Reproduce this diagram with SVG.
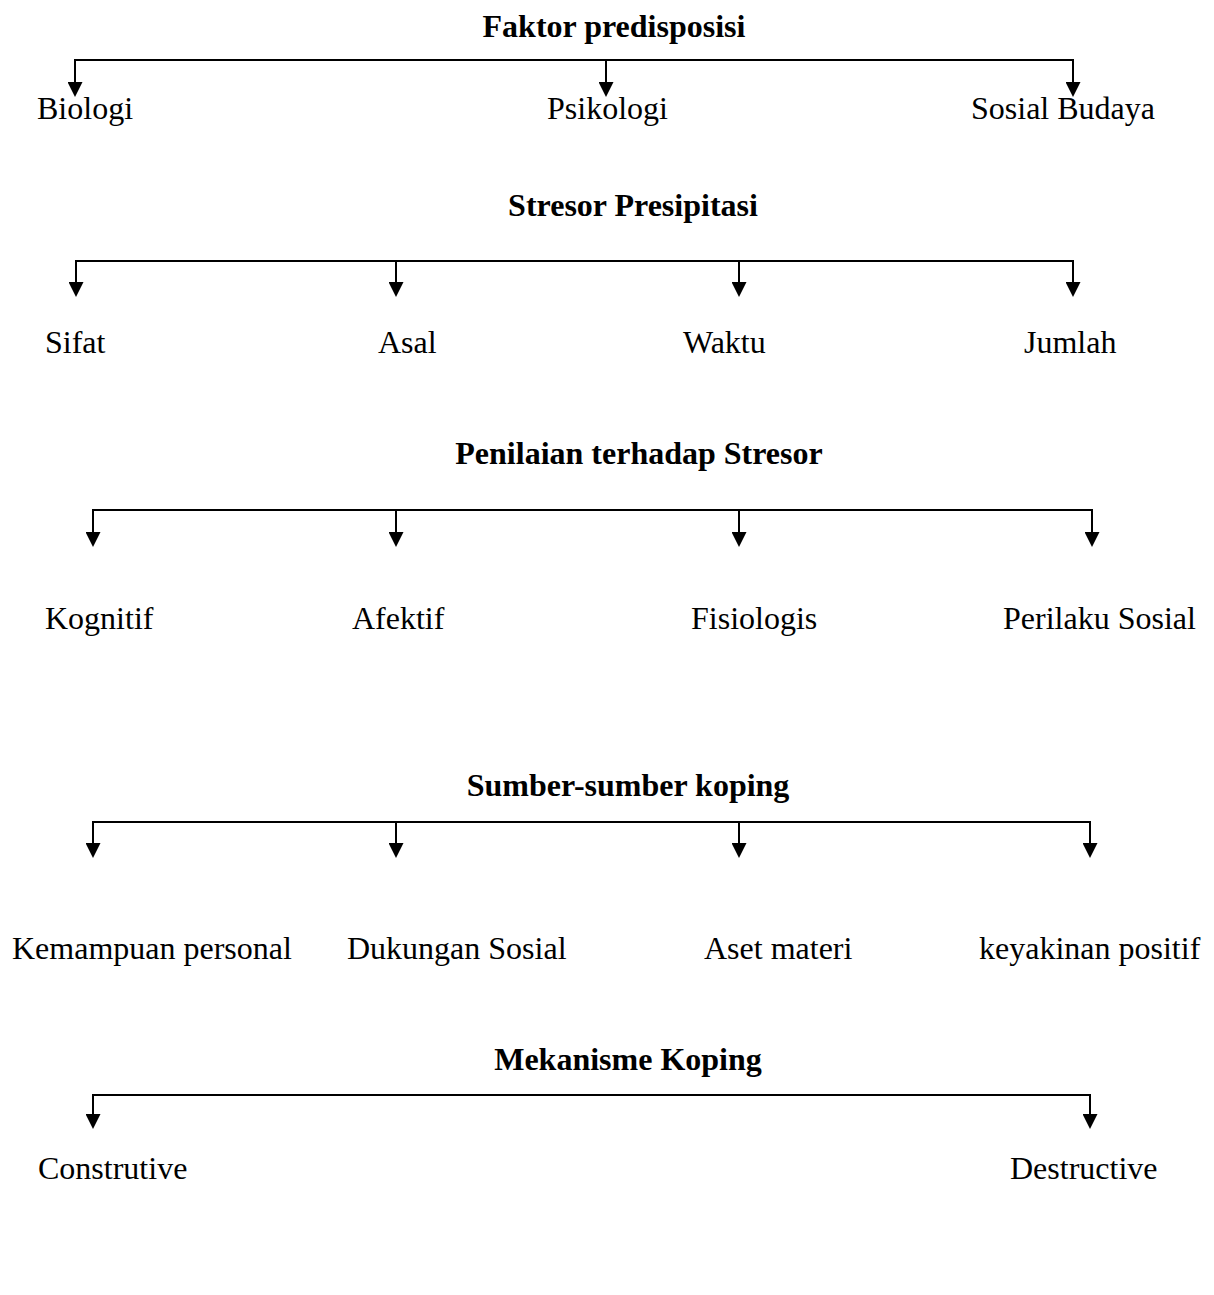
<svg xmlns="http://www.w3.org/2000/svg" width="1214" height="1295" viewBox="0 0 1214 1295">
<style>
text { font-family: "Liberation Serif", "Times New Roman", serif; font-size: 32px; fill: #000; }
.title { font-weight: bold; text-anchor: middle; }
.conn { fill: none; stroke: #000; stroke-width: 2; }
</style>
<defs>
<marker id="ah" viewBox="0 0 10 10" refX="0" refY="5" markerWidth="15" markerHeight="15" markerUnits="userSpaceOnUse" orient="auto">
<path d="M0,0 L10,5 L0,10 z" fill="#000"/>
</marker>
</defs>
<rect width="1214" height="1295" fill="#fff"/>
<g id="connectors" class="conn">
<path d="M75,82 V60 H1073 V82" marker-end="url(#ah)"/>
<path d="M75,60 V82" marker-end="url(#ah)"/>
<path d="M606,60 V82" marker-end="url(#ah)"/>
<path d="M76,282 V261 H1073 V282" marker-end="url(#ah)"/>
<path d="M76,261 V282" marker-end="url(#ah)"/>
<path d="M396,261 V282" marker-end="url(#ah)"/>
<path d="M739,261 V282" marker-end="url(#ah)"/>
<path d="M93,532 V510 H1092 V532" marker-end="url(#ah)"/>
<path d="M93,510 V532" marker-end="url(#ah)"/>
<path d="M396,510 V532" marker-end="url(#ah)"/>
<path d="M739,510 V532" marker-end="url(#ah)"/>
<path d="M93,843 V822 H1090 V843" marker-end="url(#ah)"/>
<path d="M93,822 V843" marker-end="url(#ah)"/>
<path d="M396,822 V843" marker-end="url(#ah)"/>
<path d="M739,822 V843" marker-end="url(#ah)"/>
<path d="M93,1114 V1095 H1090 V1114" marker-end="url(#ah)"/>
<path d="M93,1095 V1114" marker-end="url(#ah)"/>
</g>
<g id="faktor-predisposisi"><text class="title" x="614" y="37">Faktor predisposisi</text></g>
<g id="biologi"><text x="37" y="119">Biologi</text></g>
<g id="psikologi"><text x="547" y="119">Psikologi</text></g>
<g id="sosial-budaya"><text x="971" y="119">Sosial Budaya</text></g>
<g id="stresor-presipitasi"><text class="title" x="633" y="216">Stresor Presipitasi</text></g>
<g id="sifat"><text x="45" y="353">Sifat</text></g>
<g id="asal"><text x="378" y="353">Asal</text></g>
<g id="waktu"><text x="683" y="353">Waktu</text></g>
<g id="jumlah"><text x="1024" y="353">Jumlah</text></g>
<g id="penilaian"><text class="title" x="639" y="464">Penilaian terhadap Stresor</text></g>
<g id="kognitif"><text x="45" y="629">Kognitif</text></g>
<g id="afektif"><text x="352" y="629">Afektif</text></g>
<g id="fisiologis"><text x="691" y="629">Fisiologis</text></g>
<g id="perilaku-sosial"><text x="1003" y="629">Perilaku Sosial</text></g>
<g id="sumber-koping"><text class="title" x="628" y="796">Sumber-sumber koping</text></g>
<g id="kemampuan-personal"><text x="12" y="959">Kemampuan personal</text></g>
<g id="dukungan-sosial"><text x="347" y="959">Dukungan Sosial</text></g>
<g id="aset-materi"><text x="704" y="959">Aset materi</text></g>
<g id="keyakinan-positif"><text x="979" y="959">keyakinan positif</text></g>
<g id="mekanisme-koping"><text class="title" x="628" y="1070">Mekanisme Koping</text></g>
<g id="construtive"><text x="38" y="1179">Construtive</text></g>
<g id="destructive"><text x="1010" y="1179">Destructive</text></g>
</svg>
